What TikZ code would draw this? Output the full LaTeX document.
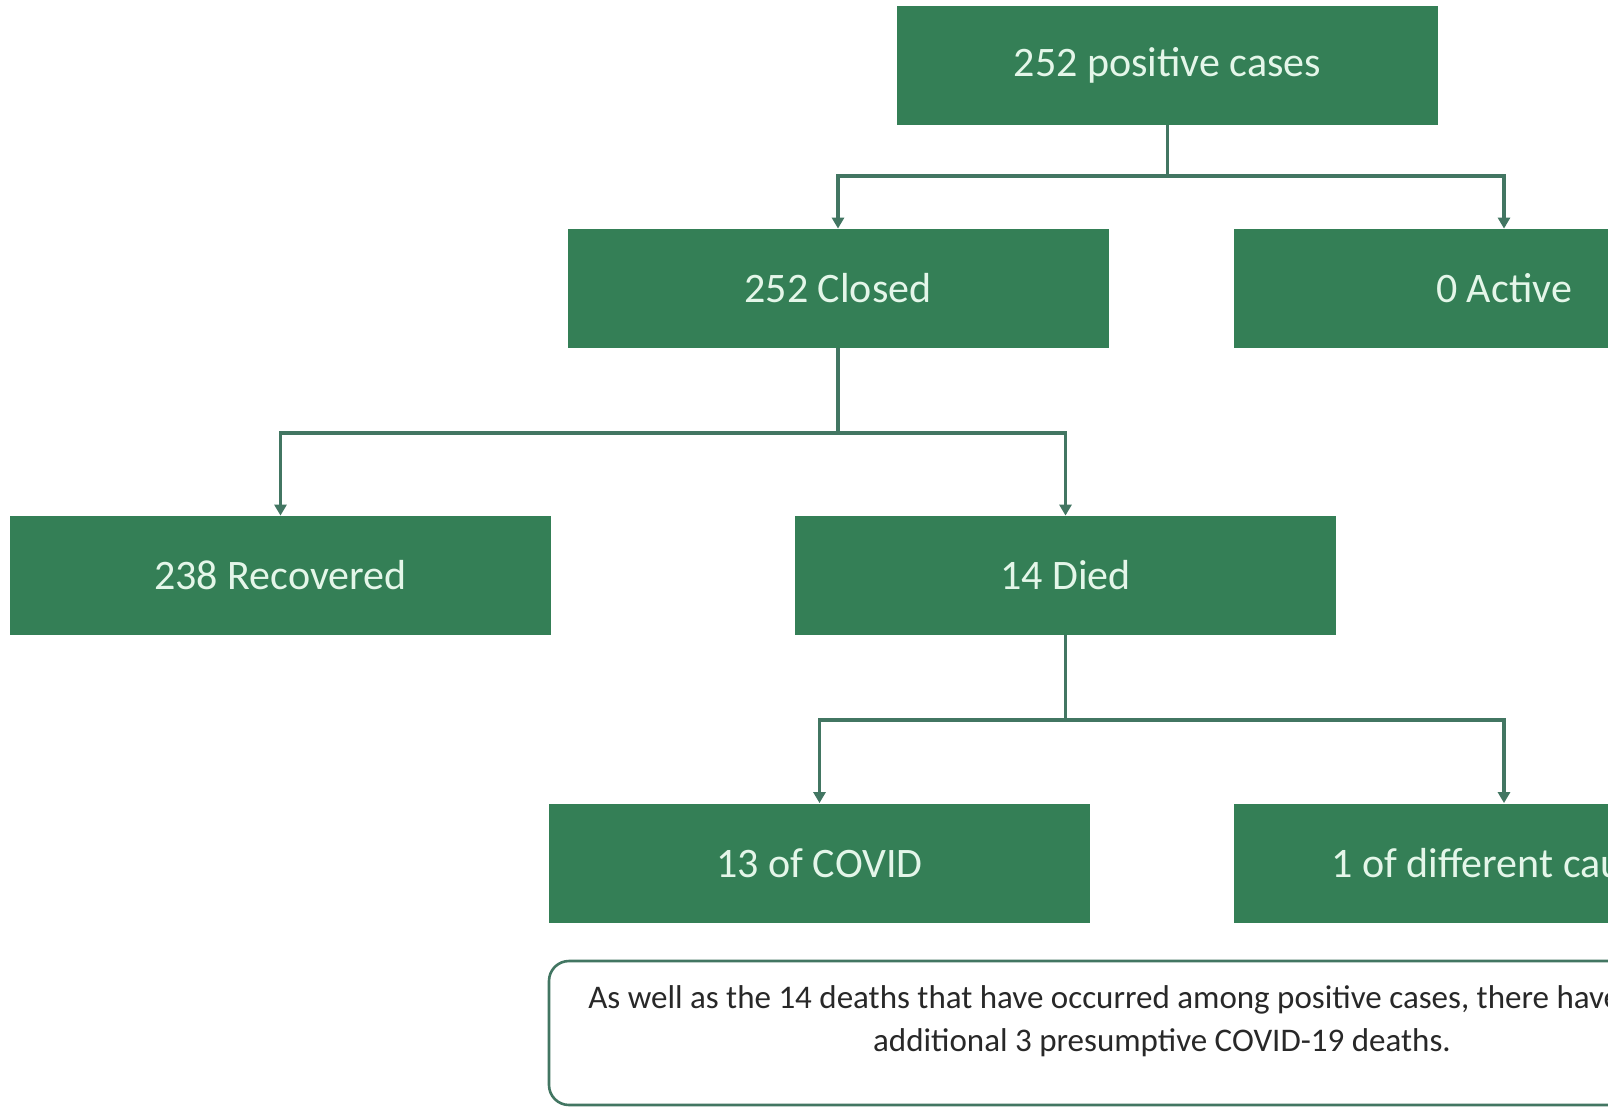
\documentclass[tikz,border=0pt]{standalone}
\usepackage{fontspec}
\setmainfont{Carlito}
\usetikzlibrary{arrows.meta}
\definecolor{boxgreen}{RGB}{52,127,86}
\definecolor{boxtext}{RGB}{228,246,233}
\definecolor{linegreen}{RGB}{66,118,98}
\definecolor{notetext}{RGB}{40,40,40}
\tikzset{
  greenbox/.style={fill=boxgreen, draw=none, minimum width=270.5pt, minimum height=59.5pt,
    inner sep=0pt, text=boxtext, font=\fontsize{21}{25}\selectfont},
  boxlabel/.style={yshift=-1.5pt},
  conn/.style={draw=linegreen, line width=1.6pt},
  arr/.style={conn, -{Triangle[width=6pt,length=5.5pt]}},
  notebox/.style={draw=linegreen, line width=1.3pt, rounded corners=10pt, fill=white,
    minimum width=613pt, minimum height=72pt, inner sep=0pt},
  notelabel/.style={text=notetext, align=center, inner sep=0pt,
    font=\fontsize{16.5}{21.5}\selectfont}
}
\begin{document}
\begin{tikzpicture}[x=0.5pt,y=-0.5pt]
\useasboundingbox (0,0) rectangle (1608,1109);
\clip (0,0) rectangle (1608,1109);
\fill[white] (0,0) rectangle (1608,1109);

\node[greenbox] (top) at (1167.5,65.5) {\raisebox{-1.5pt}{252 positive cases}};
\node[greenbox] (closed) at (838,288.5) {\raisebox{-1.5pt}{252 Closed}};
\node[greenbox] (active) at (1504,288.5) {\raisebox{-1.5pt}{0 Active}};
\node[greenbox] (recovered) at (280.5,575.5) {\raisebox{-1.5pt}{238 Recovered}};
\node[greenbox] (died) at (1065.5,575.5) {\raisebox{-1.5pt}{14 Died}};
\node[greenbox] (covid) at (819.5,863) {\raisebox{-1.5pt}{13 of COVID}};
\node[greenbox] (other) at (1504,863) {\raisebox{-1.5pt}{1 of different causes}};

\node[notebox] (note) at (1162,1033) {};
\node[notelabel, yshift=6pt] (notetxt) at (note.center) {As well as the 14 deaths that have occurred among positive cases, there have been an\\additional 3 presumptive COVID-19 deaths.};

\coordinate (j1) at (1167.5,176);
\coordinate (j2) at (838,433);
\coordinate (j3) at (1065.5,720);

\draw[conn] (top.south) -- (j1);
\draw[arr] (j1) -| (closed.north);
\draw[arr] (j1) -| (active.north);

\draw[conn] (closed.south) -- (j2);
\draw[arr] (j2) -| (recovered.north);
\draw[arr] (j2) -| (died.north);

\draw[conn] (died.south) -- (j3);
\draw[arr] (j3) -| (covid.north);
\draw[arr] (j3) -| (other.north);
\end{tikzpicture}
\end{document}
